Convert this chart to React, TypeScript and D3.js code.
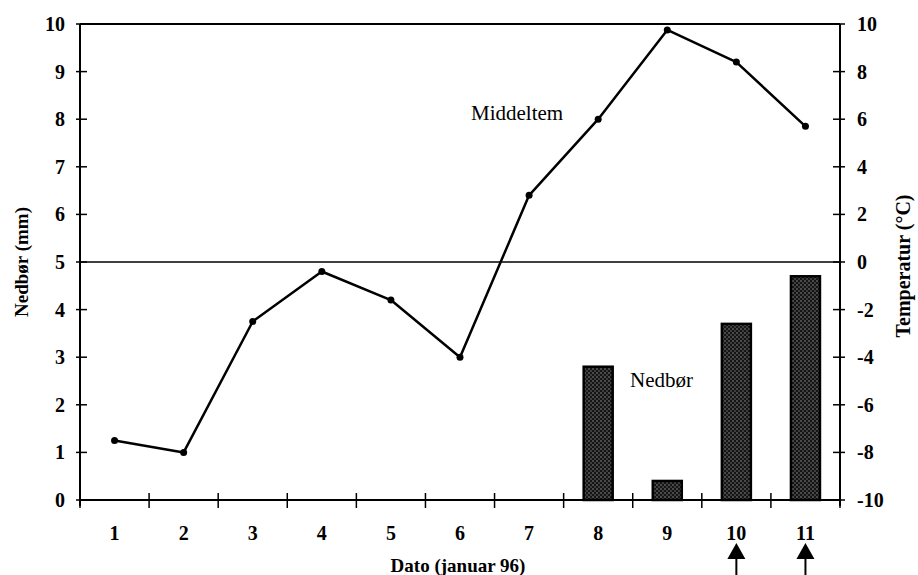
import React from "react";
import * as d3 from "d3";

const days = ["1", "2", "3", "4", "5", "6", "7", "8", "9", "10", "11"];
const temperature = [-7.5, -8, -2.5, -0.4, -1.6, -4.0, 2.8, 6.0, 9.75, 8.4, 5.7];
const precipitation = [0, 0, 0, 0, 0, 0, 0, 2.8, 0.4, 3.7, 4.7];
const leftTicks = [0, 1, 2, 3, 4, 5, 6, 7, 8, 9, 10];
const rightTicks = [-10, -8, -6, -4, -2, 0, 2, 4, 6, 8, 10];
const arrowDays = ["10", "11"];

const W = 918;
const H = 575;
const L = 80;
const R = 840;
const T = 24;
const B = 500;
const FONT = "Liberation Serif, DejaVu Serif, Times New Roman, serif";
const ts: React.CSSProperties = { fontFamily: FONT };

export default function App() {
  const x = d3.scaleBand<string>().domain(days).range([L, R]);
  const yL = d3.scaleLinear().domain([0, 10]).range([B, T]);
  const yR = d3.scaleLinear().domain([-10, 10]).range([B, T]);
  const cx = (d: string) => (x(d) as number) + x.bandwidth() / 2;
  const barW = x.bandwidth() * 0.42;

  const line = d3
    .line<number>()
    .x((_, i) => cx(days[i]))
    .y((v) => yR(v));

  const sepTicks = days.map((d) => x(d) as number).concat([R]);

  return (
    <svg width={W} height={H} style={{ position: "absolute", left: 0, top: 0, background: "#fff" }}>
      <defs>
        <pattern id="stip" width="4" height="4" patternUnits="userSpaceOnUse">
          <rect width="4" height="4" fill="#151515" />
          <circle cx="1" cy="1" r="0.75" fill="#9a9a9a" />
          <circle cx="3" cy="3" r="0.75" fill="#7a7a7a" />
        </pattern>
      </defs>

      {/* bars */}
      {precipitation.map((v, i) =>
        v > 0 ? (
          <rect
            key={"b" + i}
            x={cx(days[i]) - barW / 2}
            y={yL(v)}
            width={barW}
            height={B - yL(v)}
            fill="url(#stip)"
            stroke="#000"
            strokeWidth={2.5}
          />
        ) : null
      )}

      {/* frame lines */}
      <line x1={L} x2={R} y1={T} y2={T} stroke="#000" strokeWidth={2} />
      <line x1={L} x2={R} y1={yL(5)} y2={yL(5)} stroke="#000" strokeWidth={1.5} />
      <line x1={L} x2={R} y1={B} y2={B} stroke="#000" strokeWidth={2} />
      <line x1={L} x2={L} y1={T} y2={B + 6} stroke="#000" strokeWidth={2} />
      <line x1={R} x2={R} y1={T} y2={B + 6} stroke="#000" strokeWidth={2} />

      {/* left axis ticks */}
      {leftTicks.map((t) => (
        <g key={"l" + t}>
          <line x1={L - 4} x2={L + 7} y1={yL(t)} y2={yL(t)} stroke="#000" strokeWidth={1.5} />
          <text x={L - 15} y={yL(t)} dy="0.35em" textAnchor="end" fontSize={20} fontWeight="bold" style={ts}>
            {t}
          </text>
        </g>
      ))}

      {/* right axis ticks */}
      {rightTicks.map((t) => (
        <g key={"r" + t}>
          <line x1={R - 7} x2={R + 5} y1={yR(t)} y2={yR(t)} stroke="#000" strokeWidth={1.5} />
          <text x={R + 17} y={yR(t)} dy="0.35em" textAnchor="start" fontSize={20} fontWeight="bold" style={ts}>
            {t}
          </text>
        </g>
      ))}

      {/* x axis ticks */}
      {sepTicks.map((sx, i) => (
        <line key={"x" + i} x1={sx} x2={sx} y1={B - 7} y2={B + 8} stroke="#000" strokeWidth={1.5} />
      ))}
      {days.map((d) => (
        <text key={"xl" + d} x={cx(d)} y={540} textAnchor="middle" fontSize={20} fontWeight="bold" style={ts}>
          {d}
        </text>
      ))}

      {/* temperature line */}
      <path d={line(temperature) || ""} fill="none" stroke="#000" strokeWidth={2.5} strokeLinejoin="round" />
      {temperature.map((v, i) => (
        <circle key={"p" + i} cx={cx(days[i])} cy={yR(v)} r={3.5} fill="#000" />
      ))}

      {/* series labels */}
      <text x={471} y={120} fontSize={21} style={ts}>
        Middeltem
      </text>
      <text x={630} y={387} fontSize={21} style={ts}>
        Nedbør
      </text>

      {/* arrows */}
      {arrowDays.map((d) => (
        <g key={"a" + d}>
          <path d={`M${cx(d)},543 L${cx(d) - 9},559 L${cx(d) + 9},559 Z`} fill="#000" />
          <line x1={cx(d)} x2={cx(d)} y1={558} y2={575} stroke="#000" strokeWidth={2} />
        </g>
      ))}

      {/* axis titles */}
      <text
        transform={`translate(28,${yL(5)}) rotate(-90)`}
        textAnchor="middle"
        fontSize={19}
        fontWeight="bold"
        style={ts}
      >
        Nedbør (mm)
      </text>
      <text
        transform={`translate(910,${yL(5) + 4}) rotate(-90)`}
        textAnchor="middle"
        fontSize={20}
        fontWeight="bold"
        style={ts}
      >
        Temperatur (°C)
      </text>
      <text x={458} y={572} textAnchor="middle" fontSize={19} fontWeight="bold" style={ts}>
        Dato (januar 96)
      </text>
    </svg>
  );
}
